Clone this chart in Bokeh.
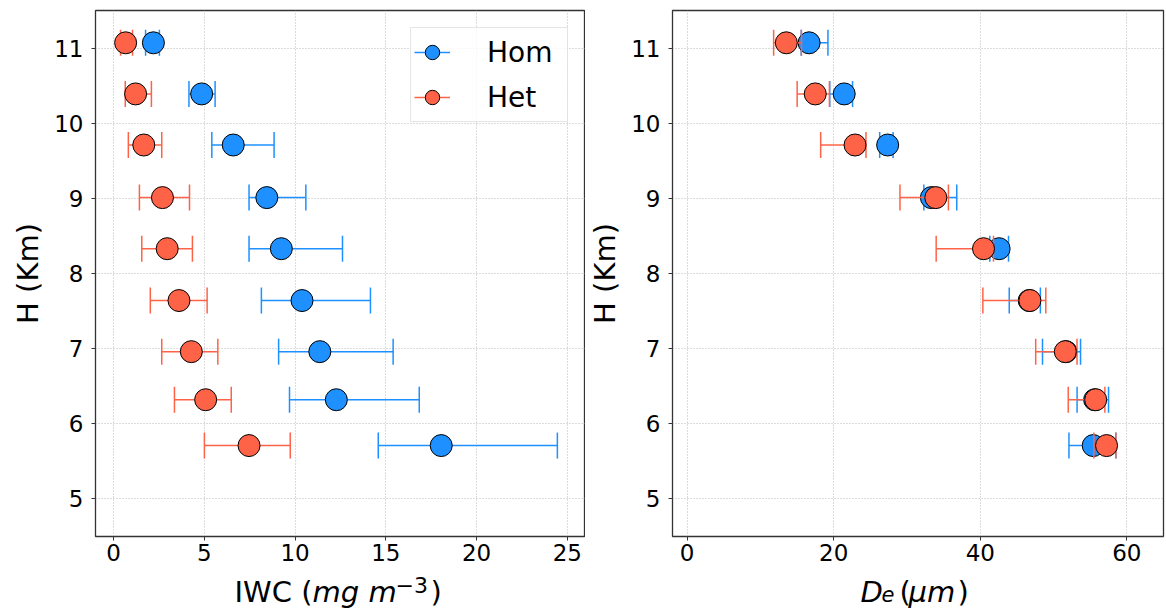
import numpy as np
from bokeh.plotting import figure
from bokeh.layouts import row, column
from bokeh.models import (ColumnDataSource, Legend, LegendItem, Label,
                          FixedTicker, Range1d)
from bokeh.embed import file_html
from bokeh.resources import INLINE

# ---------------- data ----------------
heights = [11.07, 10.39, 9.71, 9.01, 8.33, 7.64, 6.96, 6.32, 5.71]

iwc_hom = [2.19, 4.85, 6.59, 8.44, 9.24, 10.38, 11.36, 12.27, 18.05]
iwc_hom_lo = [1.76, 4.15, 5.41, 7.46, 7.46, 8.14, 9.09, 9.69, 14.58]
iwc_hom_hi = [2.52, 5.59, 8.84, 10.59, 12.61, 14.15, 15.40, 16.84, 24.45]

iwc_het = [0.66, 1.21, 1.66, 2.69, 2.95, 3.60, 4.28, 5.07, 7.46]
iwc_het_lo = [0.38, 0.64, 0.81, 1.42, 1.55, 2.02, 2.65, 3.35, 5.00]
iwc_het_hi = [1.04, 2.08, 2.65, 4.18, 4.34, 5.15, 5.74, 6.48, 9.73]

de_hom = [16.64, 21.43, 27.36, 33.33, 42.57, 46.67, 51.70, 55.60, 55.41]
de_hom_lo = [15.56, 19.46, 26.27, 32.30, 41.30, 43.95, 48.49, 53.21, 52.10]
de_hom_hi = [19.21, 22.57, 28.10, 36.79, 43.85, 48.20, 53.68, 57.50, 58.50]

de_het = [13.53, 17.48, 22.91, 33.93, 40.44, 46.77, 51.60, 55.75, 57.23]
de_het_lo = [11.80, 15.01, 18.22, 29.04, 33.98, 40.35, 47.56, 52.00, 55.50]
de_het_hi = [15.60, 19.41, 24.40, 35.65, 41.80, 48.94, 53.20, 57.00, 58.50]

iwc_ticks = [0, 5, 10, 15, 20, 25]
de_ticks = [0, 20, 40, 60]
h_ticks = [5, 6, 7, 8, 9, 10, 11]

series_names = ["Hom", "Het"]

# ---------------- style ----------------
BLUE = "#1E90FF"
RED = "#FF6347"
FONT = "DejaVu Sans"
FRAME_H = 526
BOTTOM = 35
STRIP_H = 608 - 10 - FRAME_H - BOTTOM


def make_panel(xr, xticks, hom, hom_lo, hom_hi, het, het_lo, het_hi,
               bl, br, fw, legend=False):
    p = figure(width=bl + fw + br, height=10 + FRAME_H + BOTTOM,
               frame_width=fw, frame_height=FRAME_H, title=None,
               x_range=Range1d(*xr), y_range=Range1d(4.5, 11.5),
               output_backend="svg", toolbar_location=None,
               min_border_left=bl, min_border_right=br,
               min_border_top=10, min_border_bottom=BOTTOM)
    p.background_fill_color = "white"
    p.border_fill_color = "white"
    p.outline_line_color = "#333333"
    p.outline_line_width = 1.3

    p.grid.grid_line_color = "#a8a8a8"
    p.grid.grid_line_alpha = 0.8
    p.grid.grid_line_dash = "1 2"
    p.grid.grid_line_width = 1

    p.xaxis.ticker = FixedTicker(ticks=xticks)
    p.yaxis.ticker = FixedTicker(ticks=h_ticks)
    for ax in (p.xaxis[0], p.yaxis[0]):
        ax.axis_line_color = None
        ax.major_tick_in = 0
        ax.major_tick_out = 4
        ax.major_tick_line_color = "#333333"
        ax.minor_tick_line_color = None
        ax.major_label_text_font = FONT
        ax.major_label_text_font_size = "23px"
        ax.major_label_text_color = "black"
    p.yaxis.major_label_standoff = 8
    p.xaxis.major_label_standoff = 3
    p.yaxis.axis_label = "H (Km)"
    p.yaxis.axis_label_text_font = FONT
    p.yaxis.axis_label_text_font_size = "29px"
    p.yaxis.axis_label_text_font_style = "normal"
    p.yaxis.axis_label_text_color = "black"
    p.yaxis.axis_label_standoff = 6

    items = []
    for name, c, v, lo, hi in ((series_names[0], BLUE, hom, hom_lo, hom_hi),
                               (series_names[1], RED, het, het_lo, het_hi)):
        src = ColumnDataSource(dict(x=v, lo=lo, hi=hi, y=heights))
        cap_src = ColumnDataSource(dict(x=list(lo) + list(hi),
                                        y=list(heights) + list(heights)))
        seg = p.segment(x0="lo", y0="y", x1="hi", y1="y", source=src,
                        line_color=c, line_width=1.5)
        cap = p.scatter(x="x", y="y", source=cap_src, marker="dash",
                        angle=np.pi / 2, size=26, line_color=c,
                        line_width=1.5)
        mk = p.scatter(x="x", y="y", source=src, marker="circle", size=22,
                       fill_color=c, line_color="black", line_width=1)
        items.append(LegendItem(label=name, renderers=[seg, cap, mk]))

    if legend:
        lg = Legend(items=items, location="top_right", margin=17,
                    padding=3, spacing=3, glyph_width=36, glyph_height=42,
                    label_standoff=37, label_width=77,
                    label_text_font=FONT, label_text_font_size="28px",
                    label_text_color="black",
                    border_line_color="#cccccc", border_line_width=1,
                    background_fill_color="white", background_fill_alpha=0.8)
        p.add_layout(lg)
    return p


p1 = make_panel((-1, 26), iwc_ticks, iwc_hom, iwc_hom_lo, iwc_hom_hi,
                iwc_het, iwc_het_lo, iwc_het_hi, 95, 0, 490, legend=True)
p2 = make_panel((-2, 65), de_ticks, de_hom, de_hom_lo, de_hom_hi,
                de_het, de_het_lo, de_het_hi, 87, 3, 491)

# strip below the panels that carries the composed x-axis titles
strip = figure(width=1166, height=STRIP_H, frame_width=1166,
               frame_height=STRIP_H, title=None,
               x_axis_type=None, y_axis_type=None,
               x_range=Range1d(0, 1), y_range=Range1d(0, 1),
               output_backend="svg", toolbar_location=None, min_border=0)
strip.outline_line_color = None
strip.background_fill_color = "white"
strip.border_fill_color = "white"


def add_label(text, x, y, size="29px", style="normal"):
    strip.add_layout(Label(x=x, y=y, x_units="screen", y_units="screen",
                           text=text, text_font=FONT, text_font_size=size,
                           text_font_style=style, text_color="black",
                           text_align="left", text_baseline="alphabetic"))


BASE = 17
add_label("IWC (", 234, BASE)
add_label("mg m", 312, BASE, style="italic")
add_label("\u22123", 395, BASE + 7, size="22px")
add_label(")", 430, BASE)

add_label("D", 860, BASE, style="italic")
add_label("e", 881, BASE - 2, size="21px", style="italic")
add_label("(", 899, BASE)
add_label("\u03bcm", 908, BASE, style="italic")
add_label(")", 957, BASE)

layout = column(row(p1, p2), strip)
open("out.html", "w").write(file_html(layout, INLINE))
